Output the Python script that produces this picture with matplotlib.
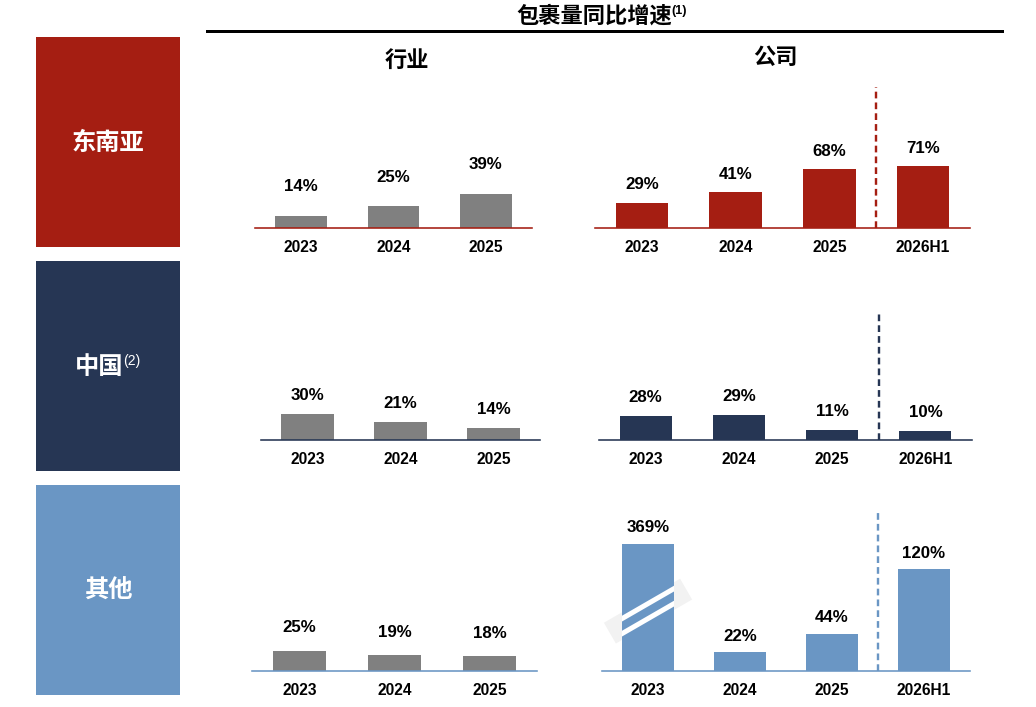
import numpy as np
import matplotlib
matplotlib.use('Agg')
import matplotlib.pyplot as plt
from matplotlib.patches import Rectangle, Polygon
from matplotlib.lines import Line2D

# ---------------- data ----------------
region_labels = ['东南亚', '中国', '其他']
region_notes = ['', '(2)', '']
industry_years = ['2023', '2024', '2025']
company_periods = ['2023', '2024', '2025', '2026H1']
industry_sea = [14, 25, 39]
industry_china = [30, 21, 14]
industry_other = [25, 19, 18]
company_sea = [29, 41, 68, 71]
company_china = [28, 29, 11, 10]
company_other = [369, 22, 44, 120]
title = '包裹量同比增速'
title_note = '(1)'
col_titles = ['行业', '公司']

# ---------------- style ----------------
W, H, DPI = 1036, 707, 100
PT = 72 / DPI
RED = '#a51e12'
NAVY = '#263654'
BLUE = '#6a96c4'
GRAY = '#808080'
row_colors = [RED, NAVY, BLUE]
CJK = ['Noto Sans CJK SC', 'DejaVu Sans']
NUM = ['Liberation Sans', 'DejaVu Sans']

fig = plt.figure(figsize=(W / DPI, H / DPI), dpi=DPI)
bg = fig.add_axes([0, 0, 1, 1])
bg.set_xlim(0, W)
bg.set_ylim(H, 0)
bg.axis('off')

# title and rule
t = bg.text(594, 16, title, ha='center', va='center', fontsize=16,
            fontweight='bold', family=CJK)
bg.annotate(title_note, xy=(1.0, 0.72), xycoords=t, ha='left', va='center',
            fontsize=9, fontweight='bold', family=NUM)
bg.add_line(Line2D([207, 1002], [31, 31], color='black', lw=3 * PT))
bg.text(407, 60, col_titles[0], ha='center', va='center', fontsize=16,
        fontweight='bold', family=CJK)
bg.text(775, 57, col_titles[1], ha='center', va='center', fontsize=16,
        fontweight='bold', family=CJK)

# left region boxes
box_tops = [37, 261, 485]
box_h = 210
label_x = [108, 99, 108]
for i, (lab, note) in enumerate(zip(region_labels, region_notes)):
    y0 = box_tops[i]
    bg.add_patch(Rectangle((36, y0), 144, box_h, color=row_colors[i], lw=0))
    tt = bg.text(label_x[i], y0 + box_h / 2 + 1, lab, ha='center', va='center',
                 fontsize=17.5, fontweight='bold', color='white', family=CJK)
    if note:
        bg.annotate(note, xy=(1.0, 0.75), xycoords=tt, ha='left', va='center',
                    fontsize=10, color='white', family=NUM)


def panel(x0, x1, base, top, scale, values, labels, color, line_color,
          label_gap, cap=None, divider=False, break_frac=None):
    ax = fig.add_axes([x0 / W, 1 - base / H, (x1 - x0) / W, (base - top) / H])
    n = len(values)
    ax.set_xlim(-0.5, n - 0.5)
    ax.set_ylim(0, (base - top) / scale)
    ax.axis('off')
    shown = [min(v, cap) if cap else v for v in values]
    bars = ax.bar(range(n), shown, width=0.56, color=color, lw=0, zorder=2)
    ax.axhline(0, color=line_color, lw=1.6 * PT, clip_on=False, zorder=3)
    for i, (v, s, lab) in enumerate(zip(values, shown, labels)):
        ax.annotate(f'{v}%', xy=(i, s), xytext=(0, label_gap * PT),
                    textcoords='offset points', ha='center', va='center',
                    fontsize=12.2, fontweight='bold', family=NUM,
                    annotation_clip=False)
        ax.annotate(lab, xy=(i, 0), xytext=(0, -20 * PT),
                    textcoords='offset points', ha='center', va='center',
                    fontsize=11.2, fontweight='bold', family=NUM,
                    annotation_clip=False)
    if divider:
        ax.axvline(n - 1.5, ymin=0, ymax=1, color=line_color, lw=2.4 * PT,
                   linestyle=(0, (2.8, 1.7)), clip_on=False, zorder=3)
    if break_frac is not None:
        # break mark on the capped bar
        idx = int(np.argmax(values))
        px_x = (x1 - x0) / n
        yc = shown[idx] * break_frac
        ang = np.deg2rad(30)
        u = np.array([np.cos(ang), np.sin(ang)])
        nv = np.array([-np.sin(ang), np.cos(ang)])

        def to_data(p):
            return (idx + p[0] / px_x, yc + p[1] / scale)

        corners = [to_data(s1 * 44 * u + s2 * 12 * nv)
                   for s1, s2 in [(-1, -1), (1, -1), (1, 1), (-1, 1)]]
        ax.add_patch(Polygon(corners, closed=True, color='#f2f2f2', lw=0,
                             zorder=1, clip_on=False))
        for off in (-6.5, 6.5):
            pa = to_data(-50 * u + off * nv)
            pb = to_data(50 * u + off * nv)
            ln = Line2D([pa[0], pb[0]], [pa[1], pb[1]], color='white',
                        lw=5 * PT, solid_capstyle='butt', zorder=3)
            ax.add_line(ln)
            ln.set_clip_path(bars[idx])
    return ax


# row 1: South-East Asia
panel(255, 532, 228, 140, 0.88, industry_sea, industry_years, GRAY, RED, 29)
panel(595, 970, 227.5, 86.7, 0.86, company_sea, company_periods, RED, RED, 18,
      divider=True)
# row 2: China
panel(261, 540, 440, 355, 0.85, industry_china, industry_years, GRAY, NAVY, 19)
panel(599, 972, 439.5, 310.7, 0.835, company_china, company_periods, NAVY,
      NAVY, 19, divider=True)
# row 3: other
panel(252, 537, 670.5, 591.5, 0.79, industry_other, industry_years, GRAY, BLUE, 23)
panel(602, 970, 670.7, 512, 0.845, company_other, company_periods, BLUE, BLUE,
      16, cap=150, divider=True, break_frac=0.47)

fig.savefig('out.png', dpi=DPI)
